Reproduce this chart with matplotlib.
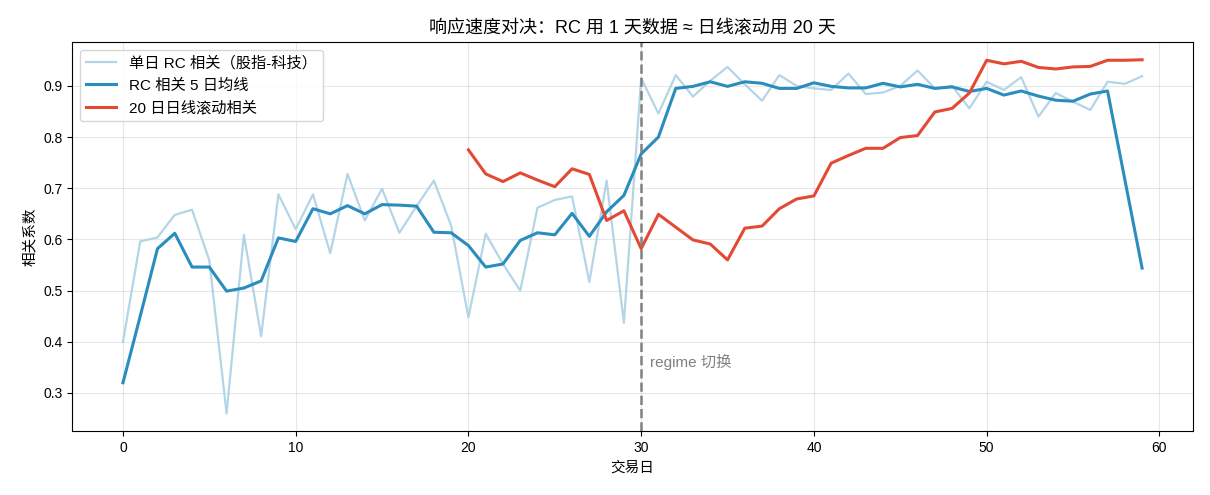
import numpy as np
import matplotlib
matplotlib.use("Agg")
import matplotlib.pyplot as plt

plt.rcParams['font.family'] = ['Liberation Sans', 'Noto Sans CJK SC', 'DejaVu Sans']
plt.rcParams['axes.unicode_minus'] = False

# trading days
days = np.arange(60)

# single-day RC correlation (index vs tech)
rc_daily = [0.400, 0.596, 0.604, 0.648, 0.658, 0.559, 0.260, 0.609, 0.411, 0.688,
            0.620, 0.688, 0.573, 0.728, 0.637, 0.699, 0.613, 0.665, 0.715, 0.627,
            0.448, 0.611, 0.552, 0.500, 0.662, 0.677, 0.684, 0.517, 0.715, 0.437,
            0.915, 0.846, 0.921, 0.879, 0.910, 0.937, 0.903, 0.871, 0.921, 0.900,
            0.895, 0.892, 0.924, 0.884, 0.887, 0.900, 0.930, 0.895, 0.900, 0.856,
            0.908, 0.892, 0.917, 0.840, 0.886, 0.869, 0.853, 0.908, 0.904, 0.919]

# 5-day average of the RC correlation
rc_ma5 = [0.320, 0.450, 0.582, 0.612, 0.546, 0.546, 0.499, 0.505, 0.519, 0.603,
          0.596, 0.660, 0.650, 0.666, 0.650, 0.668, 0.667, 0.665, 0.614, 0.613,
          0.588, 0.546, 0.552, 0.598, 0.613, 0.609, 0.651, 0.606, 0.654, 0.686,
          0.767, 0.800, 0.895, 0.899, 0.908, 0.899, 0.908, 0.905, 0.895, 0.895,
          0.906, 0.899, 0.896, 0.896, 0.905, 0.898, 0.903, 0.895, 0.898, 0.889,
          0.895, 0.882, 0.890, 0.880, 0.872, 0.870, 0.884, 0.890, 0.717, 0.544]

# 20-day rolling correlation on daily bars (starts at day 20)
roll_days = np.arange(20, 60)
roll20 = [0.775, 0.728, 0.713, 0.730, 0.716, 0.703, 0.738, 0.727, 0.637, 0.656,
          0.582, 0.649, 0.624, 0.599, 0.591, 0.560, 0.622, 0.626, 0.660, 0.679,
          0.685, 0.749, 0.764, 0.778, 0.778, 0.799, 0.803, 0.849, 0.856, 0.886,
          0.950, 0.943, 0.948, 0.936, 0.933, 0.937, 0.938, 0.950, 0.950, 0.951]

fig = plt.figure(figsize=(12.1, 4.95), dpi=100)
ax = fig.add_subplot(111)
fig.subplots_adjust(left=0.0595, right=0.986, top=0.915, bottom=0.129)

ax.plot(days, rc_daily, color='#a6cee3', lw=1.6, alpha=0.85, label='单日 RC 相关（股指-科技）')
ax.plot(days, rc_ma5, color='#2b8cbe', lw=2.2, label='RC 相关 5 日均线')
ax.plot(roll_days, roll20, color='#e34a33', lw=2.2, label='20 日日线滚动相关')

ax.axvline(30, color='gray', ls='--', lw=1.8)
ax.text(30.5, 0.35, 'regime 切换', color='gray', fontsize=11)

ax.set_title('响应速度对决：RC 用 1 天数据 ≈ 日线滚动用 20 天', fontsize=13)
ax.set_xlabel('交易日', fontsize=10.5)
ax.set_ylabel('相关系数', fontsize=10.5)
ax.grid(alpha=0.3)
ax.legend(loc='upper left', fontsize=11)

plt.savefig('out.png')
